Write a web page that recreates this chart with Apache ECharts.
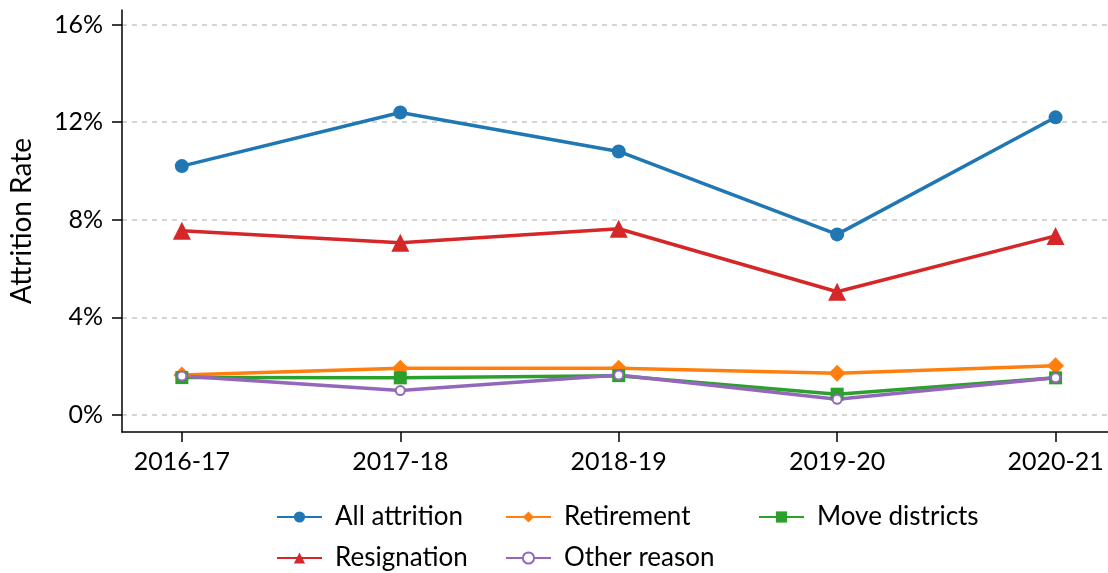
<!DOCTYPE html>
<html>
<head>
<meta charset="utf-8">
<script src="https://cdn.jsdelivr.net/npm/echarts@6/dist/echarts.min.js"></script>
<style>
  html, body { margin: 0; padding: 0; background: #fff; }
  #chart { width: 1108px; height: 573px; }
</style>
</head>
<body>
<div id="chart"></div>
<script>
// school years on the x axis
var years = ["2016-17", "2017-18", "2018-19", "2019-20", "2020-21"];
var yTicks = [0, 4, 8, 12, 16];

// attrition rates in percent
var allAttrition = [10.2, 12.4, 10.8, 7.4, 12.2];
var retirement = [1.64, 1.91, 1.91, 1.71, 2.02];
var moveDistricts = [1.53, 1.52, 1.61, 0.85, 1.52];
var resignation = [7.55, 7.06, 7.63, 5.05, 7.34];
var otherReason = [1.6, 1.0, 1.64, 0.64, 1.52];

var font = "Lato, 'DejaVu Sans', sans-serif";

function pts(arr) {
  return arr.map(function (v, i) { return [i, v]; });
}

function mkSeries(name, arr, color, symbol, size) {
  return {
    name: name,
    type: "line",
    data: pts(arr),
    symbol: symbol,
    symbolSize: size,
    color: color,
    lineStyle: { width: 3.5, color: color },
    itemStyle: { color: color, borderColor: color, borderWidth: symbol === "emptyCircle" ? 3 : 0 },
    animation: false
  };
}

function mkLegend(name, left, top) {
  return {
    data: [name],
    left: left,
    top: top,
    itemWidth: 45,
    itemHeight: 14,
    textStyle: { fontFamily: font, fontSize: 26, color: "#000", padding: [0, 0, 0, 8] }
  };
}

var myChart = echarts.init(document.getElementById("chart"));
myChart.setOption({
  backgroundColor: "#fff",
  grid: { left: 120, right: 0, top: 10, bottom: 141 },
  legend: [
    mkLegend("All attrition", 271, 499),
    mkLegend("Retirement", 500, 499),
    mkLegend("Move districts", 753, 499),
    mkLegend("Resignation", 271, 540),
    mkLegend("Other reason", 500, 540)
  ],
  xAxis: {
    type: "value",
    min: -0.274,
    max: 4.24,
    axisLine: { onZero: false, lineStyle: { color: "#000", width: 1.5 } },
    axisTick: { customValues: [0, 1, 2, 3, 4], length: 10, lineStyle: { color: "#000", width: 1.5 } },
    axisLabel: {
      customValues: [0, 1, 2, 3, 4],
      formatter: function (v) { return years[Math.round(v)]; },
      fontFamily: font, fontSize: 25, color: "#000", margin: 17
    },
    splitLine: { show: false }
  },
  yAxis: {
    type: "value",
    min: -0.7,
    max: 16.6,
    name: "Attrition Rate",
    nameLocation: "middle",
    nameGap: 86,
    nameTextStyle: { fontFamily: font, fontSize: 28, color: "#000" },
    axisLine: { show: true, onZero: false, lineStyle: { color: "#000", width: 1.5 } },
    axisTick: { show: true, customValues: yTicks, length: 10, lineStyle: { color: "#000", width: 1.5 } },
    axisLabel: {
      customValues: yTicks,
      formatter: function (v) { return Math.round(v) + "%"; },
      fontFamily: font, fontSize: 25, color: "#000", margin: 19
    },
    splitLine: { show: true, lineStyle: { color: "#c8c8c8", type: [5, 5], width: 1.5 } }
  },
  series: [
    mkSeries("All attrition", allAttrition, "#1f77b4", "circle", 14),
    mkSeries("Retirement", retirement, "#ff7f0e", "diamond", 17),
    mkSeries("Move districts", moveDistricts, "#2ca02c", "rect", 13),
    mkSeries("Resignation", resignation, "#d62728", "triangle", 18),
    mkSeries("Other reason", otherReason, "#9467bd", "emptyCircle", 9)
  ]
});
</script>
</body>
</html>
